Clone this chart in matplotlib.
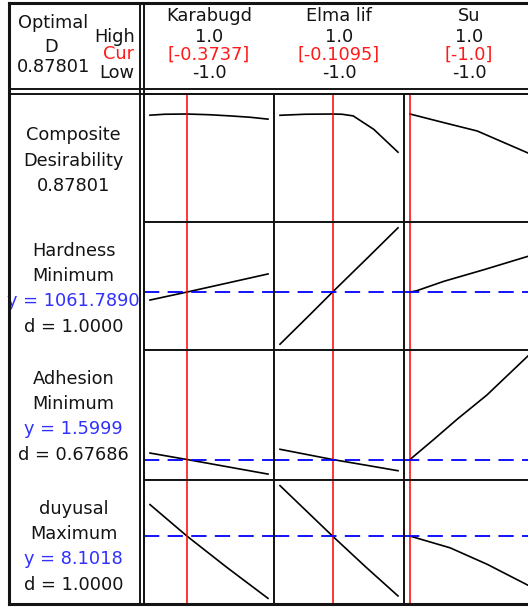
import numpy as np
import matplotlib
matplotlib.use("Agg")
import matplotlib.pyplot as plt
from matplotlib.lines import Line2D

plt.rcParams['font.family'] = ['DejaVu Sans']
plt.rcParams['lines.scale_dashes'] = False

# factor settings
factors = ["Karabugd", "Elma lif", "Su"]
f_high = [1.0, 1.0, 1.0]
f_low = [-1.0, -1.0, -1.0]
f_cur = [-0.3737, -0.1095, -1.0]

# responses
resp_names = ["Hardness", "Adhesion", "duyusal"]
resp_goals = ["Minimum", "Minimum", "Maximum"]
y_pred = [1061.7890, 1.5999, 8.1018]
d_ind = [1.0, 0.67686, 1.0]
D_opt = 0.87801

# profile traces, one list per factor column
comp_x = [[-1, -0.75, -0.3737, 0.0, 0.35, 0.7, 1.0],
          [-1, -0.58, -0.1095, 0.05, 0.24, 0.59, 1.0],
          [-1, -0.42, 0.14, 1.0]]
comp_y = [[0.868, 0.876, 0.87801, 0.872, 0.862, 0.850, 0.834],
          [0.867, 0.876, 0.87801, 0.876, 0.862, 0.746, 0.55],
          [0.87801, 0.803, 0.732, 0.543]]

hard_x = [[-1, -0.3737, 0.3, 1.0],
          [-1, -0.5, -0.1095, 0.5, 1.0],
          [-1, -0.89, -0.43, 0.25, 1.0]]
hard_y = [[1022, 1061.789, 1106, 1152],
          [802, 947, 1061.789, 1237, 1382],
          [1061.789, 1068, 1115, 1173, 1240]]

adh_x = [[-1, -0.3737, 0.3, 1.0],
         [-1, -0.1095, 0.45, 1.0],
         [-1, -0.6, -0.2, 0.3, 1.0]]
adh_y = [[1.726, 1.5999, 1.46, 1.314],
         [1.80, 1.5999, 1.49, 1.38],
         [1.5999, 1.99, 2.39, 2.86, 3.63]]

duy_x = [[-1, -0.3737, 0.3, 1.0],
         [-1, -0.1095, 0.45, 1.0],
         [-1, -0.32, 0.31, 1.0]]
duy_y = [[8.75, 8.1018, 7.46, 6.82],
         [9.14, 8.1018, 7.47, 6.87],
         [8.1018, 7.86, 7.52, 7.09]]

rows_x = [comp_x, hard_x, adh_x, duy_x]
rows_y = [comp_y, hard_y, adh_y, duy_y]

W, H = 528, 610
fig = plt.figure(figsize=(W / 100, H / 100), dpi=100)
fig.patch.set_facecolor('white')

def fx(x):
    return x / W

def fy(y):
    return 1 - y / H

BLACK = '#141414'
RED = '#ff1a1a'
BLUE = '#3030ff'
FS = 12.8

def fline(x0, y0, x1, y1, lw=1.4):
    fig.add_artist(Line2D([fx(x0), fx(x1)], [fy(y0), fy(y1)], color=BLACK,
                          lw=lw, transform=fig.transFigure, zorder=10,
                          solid_capstyle='projecting'))

def ftext(x, y, s, color=BLACK, ha='center'):
    fig.text(fx(x), fy(y), s, color=color, ha=ha, va='baseline',
             fontsize=FS, zorder=3)

def fmt_level(v):
    s = f"{v:.4f}".rstrip('0')
    return s + '0' if s.endswith('.') else s

col_left = [144, 274, 404]
col_w = 130
row_top = [94, 222, 350, 480]
row_bot = [222, 350, 480, 604]
pad_x = 1 + 2 * 6 / 118

for r in range(4):
    if r == 0:
        ylo, yhi = -0.05, 1.05
    else:
        allv = np.concatenate([np.asarray(v, float) for v in rows_y[r]])
        lo, hi = allv.min(), allv.max()
        span = hi - lo
        ylo, yhi = lo - 0.05 * span, hi + 0.05 * span
    for c in range(3):
        ax = fig.add_axes([fx(col_left[c]), fy(row_bot[r]),
                           col_w / W, (row_bot[r] - row_top[r]) / H])
        ax.set_xlim(-pad_x, pad_x)
        ax.set_ylim(ylo, yhi)
        ax.set_xticks([])
        ax.set_yticks([])
        for sp in ax.spines.values():
            sp.set_color(BLACK)
            sp.set_linewidth(1.4)
        ax.plot(rows_x[r][c], rows_y[r][c], color='black', lw=1.2)
        ax.axvline(f_cur[c], color='#ff0000', lw=1.1)
        if r > 0:
            ax.axhline(y_pred[r - 1], color='#0000ff', lw=1.3,
                       dashes=(11.0, 6.0))

# header: optimal D and factor levels
ftext(53, 28, "Optimal")
ftext(51, 52, "D")
ftext(54, 72, f"{D_opt:.5f}")
ftext(135, 42, "High", ha='right')
ftext(134, 59, "Cur", color=RED, ha='right')
ftext(134, 78, "Low", ha='right')
for c in range(3):
    cx = col_left[c] + col_w / 2
    ftext(cx, 21, factors[c])
    ftext(cx, 42, fmt_level(f_high[c]))
    ftext(cx, 60, "[" + fmt_level(f_cur[c]) + "]", color=RED)
    ftext(cx, 78, fmt_level(f_low[c]))

# response labels
lx = 73.5
ftext(lx, 140, "Composite")
ftext(lx, 165.5, "Desirability")
ftext(lx, 191, f"{D_opt:.5f}")
for i in range(3):
    t = row_top[i + 1] + 33.5
    ftext(lx, t, resp_names[i])
    ftext(lx, t + 25.5, resp_goals[i])
    ftext(lx, t + 51, f"y = {y_pred[i]:.4f}", color=BLUE)
    ftext(lx, t + 76.5, f"d = {d_ind[i]:#.5g}")

# frame
fline(8.5, 2.5, 528, 2.5, lw=2.2)
fline(8.5, 2.5, 8.5, 604, lw=2.2)
fline(8.5, 604, 528, 604, lw=2.2)
fline(8.5, 89, 528, 89)
fline(8.5, 93.5, 528, 93.5)
fline(140, 2.5, 140, 604)
fline(144, 2.5, 144, 604)

fig.savefig("out.png", dpi=100, facecolor='white')
